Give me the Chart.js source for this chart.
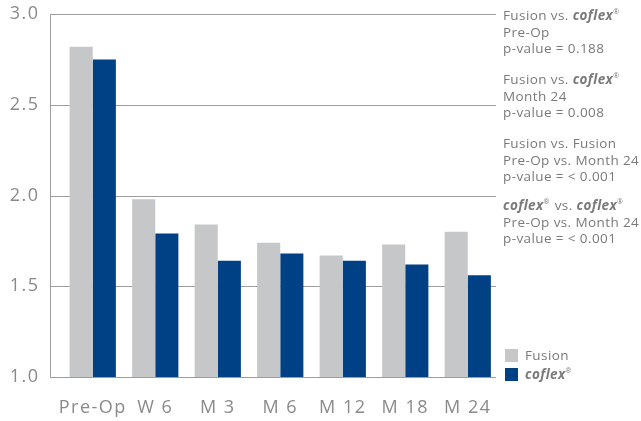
<!DOCTYPE html>
<html>
<head>
<meta charset="utf-8">
<script src="https://cdn.jsdelivr.net/npm/chart.js@4.4.1/dist/chart.umd.min.js"></script>
<style>
html,body{margin:0;padding:0;background:#fff;}
#wrap{width:641px;height:421px;position:relative;}
</style>
</head>
<body>
<div id="wrap"><canvas id="c" width="641" height="421"></canvas></div>
<script>
const categories = ['Pre-Op', 'W 6', 'M 3', 'M 6', 'M 12', 'M 18', 'M 24'];
const fusionValues = [2.82, 1.98, 1.84, 1.74, 1.67, 1.73, 1.80];
const coflexValues = [2.75, 1.79, 1.64, 1.68, 1.64, 1.62, 1.56];
const yTickValues = [1.0, 1.5, 2.0, 2.5, 3.0];
const seriesNames = ['Fusion', 'coflex'];
const noteGroups = [
  [[['Fusion vs. ', 'n'], ['coflex', 'bi'], ['®', 'sup']], [['Pre-Op', 'n']], [['p-value = 0.188', 'n']]],
  [[['Fusion vs. ', 'n'], ['coflex', 'bi'], ['®', 'sup']], [['Month 24', 'n']], [['p-value = 0.008', 'n']]],
  [[['Fusion vs. Fusion', 'n']], [['Pre-Op vs. Month 24', 'n']], [['p-value = < 0.001', 'n']]],
  [[['coflex', 'bi'], ['®', 'sup'], [' vs. ', 'n'], ['coflex', 'bi'], ['®', 'sup']], [['Pre-Op vs. Month 24', 'n']], [['p-value = < 0.001', 'n']]]
];

const FONT = '"Open Sans", "Noto Sans", sans-serif';
const GRAY = '#c6c7c9';
const BLUE = '#004085';
const TEXT = '#8a8a8a';
const NOTE = '#7a7a7a';

function drawRich(ctx, x, y, parts, size) {
  let cx = x;
  for (const [t, s] of parts) {
    if (s === 'bi') ctx.font = 'italic bold ' + size + 'px ' + FONT;
    else if (s === 'sup') ctx.font = Math.round(size * 0.55) + 'px ' + FONT;
    else ctx.font = size + 'px ' + FONT;
    const dy = s === 'sup' ? -size * 0.42 : 0;
    ctx.fillText(t, cx, y + dy);
    cx += ctx.measureText(t).width + (s === 'sup' ? 1 : 0);
  }
}

const decor = {
  id: 'decor',
  beforeDraw(chart) {
    chart.ctx.letterSpacing = '1.5px';
  },
  beforeDatasetsDraw(chart) {
    const ctx = chart.ctx;
    const ys = chart.scales.y;
    ctx.save();
    ctx.strokeStyle = '#9d9d9d';
    ctx.lineWidth = 1;
    for (const v of yTickValues) {
      const y = Math.round(ys.getPixelForValue(v)) + 0.5;
      ctx.beginPath();
      ctx.moveTo(50, y);
      ctx.lineTo(496, y);
      ctx.stroke();
    }
    ctx.beginPath();
    ctx.moveTo(50.5, Math.round(ys.getPixelForValue(3.0)));
    ctx.lineTo(50.5, Math.round(ys.getPixelForValue(1.0)) + 1);
    ctx.stroke();
    ctx.restore();
  },
  afterDraw(chart) {
    const ctx = chart.ctx;
    ctx.save();
    ctx.letterSpacing = '0.4px';
    ctx.fillStyle = NOTE;
    ctx.textBaseline = 'alphabetic';
    ctx.textAlign = 'left';
    const groupTops = [20, 84, 148, 210];
    noteGroups.forEach((g, gi) => {
      g.forEach((line, li) => {
        drawRich(ctx, 503, groupTops[gi] + li * 16.5, line, 13.5);
      });
    });
    const colors = [GRAY, BLUE];
    const legendY = [349, 368];
    seriesNames.forEach((n, i) => {
      ctx.fillStyle = colors[i];
      ctx.fillRect(505, legendY[i], 13, 13);
      ctx.fillStyle = NOTE;
      const parts = i === 0 ? [[n, 'n']] : [[n, 'bi'], ['®', 'sup']];
      drawRich(ctx, 525, legendY[i] + 11, parts, 13.5);
    });
    ctx.restore();
    ctx.letterSpacing = '0px';
  }
};

new Chart(document.getElementById('c'), {
  type: 'bar',
  data: {
    labels: categories,
    datasets: [
      { label: seriesNames[0], data: fusionValues, backgroundColor: GRAY, barPercentage: 1, categoryPercentage: 0.74 },
      { label: seriesNames[1], data: coflexValues, backgroundColor: BLUE, barPercentage: 1, categoryPercentage: 0.74 }
    ]
  },
  options: {
    responsive: false,
    animation: false,
    devicePixelRatio: 1,
    layout: { padding: { top: 14, right: 142, bottom: 0, left: 0 } },
    plugins: { legend: { display: false }, tooltip: { enabled: false } },
    scales: {
      x: {
        grid: { display: false, drawTicks: false },
        border: { display: false },
        ticks: { color: TEXT, font: { family: FONT, size: 18 }, padding: 20, autoSkip: false, maxRotation: 0 },
        afterFit(s) { s.height = 44; s.paddingLeft = 0; s.paddingRight = 0; }
      },
      y: {
        min: 1, max: 3,
        grid: { display: false, drawTicks: false },
        border: { display: false },
        ticks: {
          stepSize: 0.5,
          color: TEXT,
          font: { family: FONT, size: 18 },
          padding: 22,
          callback: (v) => yTickValues.includes(v) ? v.toFixed(1) : ''
        },
        afterFit(s) { s.width = 61.5; s.paddingTop = 0; s.paddingBottom = 0; }
      }
    }
  },
  plugins: [decor]
});
</script>
</body>
</html>
